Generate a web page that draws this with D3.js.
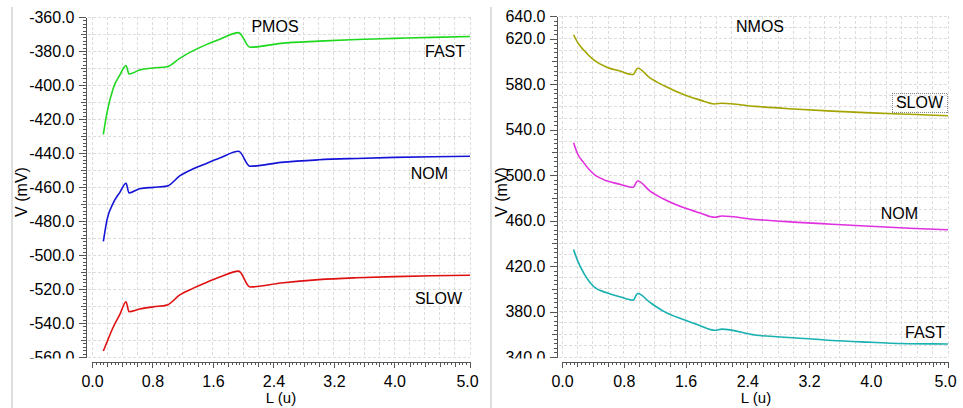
<!DOCTYPE html>
<html>
<head>
<meta charset="utf-8">
<script src="https://cdn.jsdelivr.net/npm/d3@7/dist/d3.min.js"></script>
<style>
  html, body { margin: 0; padding: 0; background: #fff; }
  svg { display: block; }
  text { font-family: "Liberation Sans", Arial, Helvetica, sans-serif; fill: #000; }
</style>
</head>
<body>
<svg id="chart" width="963" height="408"></svg>
<script>
// Threshold voltage vs. channel length, three process corners per device type.

// PMOS panel
const pmosL = [0.15, 0.2, 0.28, 0.37, 0.45, 0.49, 0.63, 0.81, 0.99, 1.16, 1.34, 1.52, 1.69, 1.94, 2.09, 2.5, 3.0, 3.5, 4.0, 4.5, 5.0];
const pmosFast = [-429, -416, -402, -394, -388.5, -393.5, -391.2, -390, -389.3, -384.3, -379.8, -376.1, -373.1, -369.2, -377.8, -375.5, -374.2, -373.2, -372.6, -372, -371.5];
const pmosNom  = [-492, -479, -469.5, -463, -457.8, -463.5, -461, -460.2, -459.5, -453.5, -449.3, -446, -443, -439, -447.8, -445.5, -444, -443.2, -442.6, -442.2, -441.9];
const pmosSlow = [-556.5, -551, -542.5, -534.8, -527.5, -533.4, -531.8, -530.5, -529.5, -523.5, -519.5, -516, -513, -509.5, -518.8, -516.5, -514.5, -513.4, -512.7, -512.2, -511.9];
const pmosYTicks = [-360, -380, -400, -420, -440, -460, -480, -500, -520, -540, -560];

// NMOS panel
const nmosL = [0.15, 0.2, 0.28, 0.41, 0.58, 0.75, 0.92, 0.98, 1.14, 1.33, 1.59, 1.79, 1.98, 2.07, 2.5, 3.0, 3.5, 4.0, 4.5, 5.0];
const nmosSlow = [623.5, 617, 610, 601.5, 595, 591.6, 588.5, 594, 585.5, 578.4, 570.5, 566, 562.6, 563.3, 560.5, 558.2, 556.3, 554.8, 553.5, 552.3];
const nmosNom  = [528.5, 519, 511, 501, 495, 492, 489.3, 494.8, 486, 478.5, 471, 466.7, 463, 464, 461, 458.7, 456.8, 455, 453.3, 451.9];
const nmosFast = [434.5, 425, 414, 402, 396.5, 393, 390, 395.8, 388, 379.7, 372.5, 367.5, 363.5, 364.5, 359.3, 357, 354.5, 353, 351.7, 351.5];
const nmosYTicks = [640, 620, 580, 540, 500, 460, 420, 380, 340];

const xTicks = [0.0, 0.8, 1.6, 2.4, 3.2, 4.0, 5.0];

const svg = d3.select("#chart");
const defs = svg.append("defs");

// panel separators
[12, 491].forEach(x => {
  svg.append("line").attr("x1", x).attr("x2", x).attr("y1", 7).attr("y2", 408)
    .attr("stroke", "#bdbdbd").attr("stroke-width", 1);
});

function panel(cfg) {
  const x = d3.scaleLinear().domain([0, 5]).range(cfg.xr);
  const y = d3.scaleLinear().domain(cfg.yd).range([357, cfg.yTop]);
  const g = svg.append("g");
  const gridLeft = cfg.axisX + 2;

  // grid
  const grid = g.append("g").attr("stroke", "#dcdcdc").attr("stroke-width", 1)
    .attr("stroke-dasharray", "3,2").attr("shape-rendering", "crispEdges");
  d3.range(0, 5.0001, 0.2).forEach(v => {
    grid.append("line").attr("x1", x(v)).attr("x2", x(v)).attr("y1", y.range()[1]).attr("y2", 357);
  });
  d3.range(cfg.yd[0], cfg.yd[1] + 0.001, 10).forEach(v => {
    grid.append("line").attr("x1", gridLeft).attr("x2", x(5)).attr("y1", y(v)).attr("y2", y(v));
  });

  // y axis: minor, medium, labelled ticks
  const yAxisG = g.append("g").attr("transform", `translate(${cfg.axisX},0)`);
  yAxisG.append("g").call(d3.axisLeft(y).tickValues(d3.range(cfg.yd[0], cfg.yd[1] + 0.001, cfg.yMinor)).tickSize(3).tickSizeOuter(0).tickFormat(""));
  yAxisG.append("g").call(d3.axisLeft(y).tickValues(d3.range(cfg.yd[0], cfg.yd[1] + 0.001, cfg.yMid)).tickSize(5).tickSizeOuter(0).tickFormat(""));
  const clipId = "yclip" + cfg.id;
  defs.append("clipPath").attr("id", clipId).append("rect")
    .attr("x", -100).attr("y", 0).attr("width", 200).attr("height", 358.5);
  const yMain = yAxisG.append("g").attr("clip-path", `url(#${clipId})`)
    .call(d3.axisLeft(y).tickValues(cfg.yTicks).tickSize(7).tickSizeOuter(0).tickPadding(4)
      .tickFormat(d => d.toFixed(1)));
  yAxisG.selectAll("path.domain, line").attr("stroke", "#555").attr("shape-rendering", "crispEdges");
  yMain.selectAll("text").attr("font-size", 16).attr("fill", "#000")
    .attr("font-family", "'Liberation Sans', Arial, sans-serif");

  // x axis below the plot
  const xAxisG = g.append("g").attr("transform", "translate(0,362)");
  xAxisG.append("g").call(d3.axisBottom(x).tickValues(d3.range(0, 5.0001, 0.05)).tickSize(3).tickSizeOuter(0).tickFormat(""));
  xAxisG.append("g").call(d3.axisBottom(x).tickValues(d3.range(0, 5.0001, 0.2)).tickSize(5).tickSizeOuter(0).tickFormat(""));
  const xMain = xAxisG.append("g").call(d3.axisBottom(x).tickValues(xTicks).tickSize(6).tickSizeOuter(0).tickPadding(8)
    .tickFormat(d => d.toFixed(1)));
  xAxisG.selectAll("path.domain, line").attr("stroke", "#555").attr("shape-rendering", "crispEdges");
  xMain.selectAll("text").attr("font-size", 16).attr("fill", "#000")
    .attr("font-family", "'Liberation Sans', Arial, sans-serif");
  xMain.selectAll(".tick").filter(d => d === 5).select("text").attr("dx", -3);

  // axis titles
  g.append("text").attr("x", cfg.xTitleX).attr("y", 403).attr("text-anchor", "middle")
    .attr("font-size", 15).text("L (u)");
  g.append("text").attr("transform", `translate(${cfg.yTitleX},192) rotate(-90)`)
    .attr("text-anchor", "middle").attr("font-size", 16).text("V (mV)");

  // series
  const line = d3.line().x(d => x(d[0])).y(d => y(d[1])).curve(d3.curveMonotoneX);
  cfg.series.forEach(s => {
    g.append("path").datum(cfg.L.map((l, i) => [l, s.values[i]]))
      .attr("fill", "none").attr("stroke", s.color).attr("stroke-width", 1.6)
      .attr("stroke-linejoin", "round").attr("d", line);
  });

  // titles and corner labels
  g.append("text").attr("x", cfg.title[1]).attr("y", 32).attr("text-anchor", "middle")
    .attr("font-size", 16).text(cfg.title[0]);
  cfg.labels.forEach(lb => {
    const t = g.append("text").attr("x", lb.x).attr("y", lb.y).attr("text-anchor", "end")
      .attr("font-size", 16).text(lb.text);
    if (lb.box) {
      const bb = t.node().getBBox();
      g.append("rect").attr("x", bb.x - 3.5).attr("y", bb.y - 0.5)
        .attr("width", bb.width + 7).attr("height", bb.height + 2)
        .attr("fill", "none").attr("stroke", "#888").attr("stroke-width", 1)
        .attr("stroke-dasharray", "1,1").attr("shape-rendering", "crispEdges");
    }
  });
}

panel({
  id: "p", xr: [92, 470], yd: [-560, -360], yTop: 17, axisX: 85.5,
  yTicks: pmosYTicks, yMinor: 2, yMid: 10,
  xTitleX: 281, yTitleX: 27, L: pmosL,
  title: ["PMOS", 275],
  series: [
    { values: pmosFast, color: "#1ed81e" },
    { values: pmosNom, color: "#1414d8" },
    { values: pmosSlow, color: "#e01010" }
  ],
  labels: [
    { text: "FAST", x: 465, y: 57 },
    { text: "NOM", x: 448, y: 179 },
    { text: "SLOW", x: 462, y: 304 }
  ]
});

panel({
  id: "n", xr: [562, 948], yd: [340, 640], yTop: 16, axisX: 556.5,
  yTicks: nmosYTicks, yMinor: 4, yMid: 20,
  xTitleX: 756, yTitleX: 507, L: nmosL,
  title: ["NMOS", 760],
  series: [
    { values: nmosSlow, color: "#a4a400" },
    { values: nmosNom, color: "#e030e0" },
    { values: nmosFast, color: "#18b0b0" }
  ],
  labels: [
    { text: "SLOW", x: 943, y: 108, box: true },
    { text: "NOM", x: 918, y: 219 },
    { text: "FAST", x: 945, y: 338 }
  ]
});
</script>
</body>
</html>
